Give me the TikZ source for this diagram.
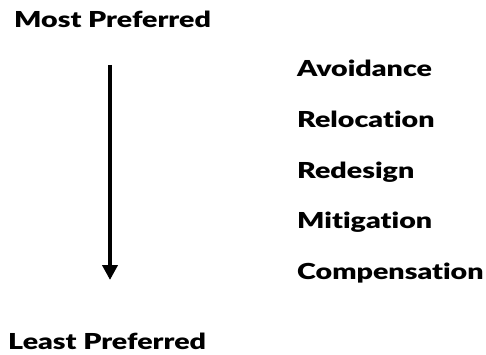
\documentclass[tikz,border=0pt]{standalone}
\usepackage{fontspec}
\IfFontExistsTF{Lato Black}{\setmainfont{Lato Black}[FakeStretch=1.3,RawFeature={-liga;-dlig}]}{\setmainfont{Liberation Sans}[UprightFont=* Bold]}
\usetikzlibrary{arrows.meta}
\tikzset{lbl/.style={anchor=base west, inner sep=0pt, font=\fontsize{22}{24}\selectfont, text=black}}
\begin{document}
\begin{tikzpicture}[x=1pt,y=1pt]
\useasboundingbox (0,0) rectangle (486,354);
\node[lbl] (most) at (14,326) {Most Preferred};
\node[lbl] (least) at (8,5) {Least Preferred};
\node[lbl] (a1) at (297,277) {Avoidance};
\node[lbl] (a2) at (297,227) {Relocation};
\node[lbl] (a3) at (297,176) {Redesign};
\node[lbl] (a4) at (297,126) {Mitigation};
\node[lbl] (a5) at (297,75) {Compensation};
\coordinate (s) at (110,289);
\coordinate (e) at (110,74);
\draw[line width=4pt, -{Triangle[length=15pt,width=15pt]}] (s) -- (e);
\end{tikzpicture}
\end{document}
